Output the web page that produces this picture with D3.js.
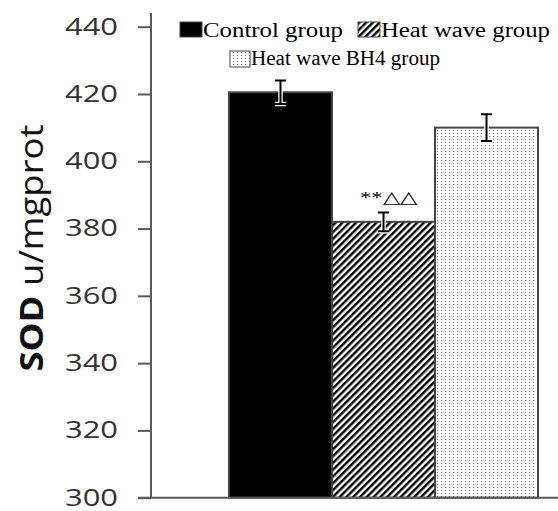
<!DOCTYPE html>
<html>
<head>
<meta charset="utf-8">
<script src="https://cdn.jsdelivr.net/npm/d3@7"></script>
<style>
  body { margin: 0; background: #fff; }
</style>
</head>
<body>
<div id="chart"></div>
<script>
// data
const groups = ["Control group", "Heat wave group", "Heat wave BH4 group"];
const means = [420.5, 382, 410];
const errors = [3.5, 2.8, 4];
const yTicks = [300, 320, 340, 360, 380, 400, 420, 440];
const marks = ["", "**\u25B3\u25B3", ""];

const width = 558, height = 511;
const axisColor = "#595959";

const data = groups.map((g, i) => ({ group: g, mean: means[i], err: errors[i], mark: marks[i] }));

const svg = d3.select("#chart").append("svg")
    .attr("width", width).attr("height", height);

const defs = svg.append("defs");

// diagonal hatch
const hatch = defs.append("pattern").attr("id", "hatch")
    .attr("patternUnits", "userSpaceOnUse")
    .attr("width", 4.8).attr("height", 10)
    .attr("patternTransform", "rotate(45)");
hatch.append("rect").attr("width", 4.8).attr("height", 10).attr("fill", "white");
hatch.append("rect").attr("width", 2.4).attr("height", 10).attr("fill", "black");

// dotted fill
const dots = defs.append("pattern").attr("id", "dots")
    .attr("patternUnits", "userSpaceOnUse")
    .attr("width", 4).attr("height", 3);
dots.append("rect").attr("width", 4).attr("height", 3).attr("fill", "white");
dots.append("rect").attr("x", 1).attr("y", 1).attr("width", 1).attr("height", 1).attr("fill", "#777");

const fills = ["black", "url(#hatch)", "url(#dots)"];
const color = d3.scaleOrdinal().domain(groups).range(fills);

// scales
const y = d3.scaleLinear().domain([300, 440]).range([497.7, 26.7]);
const x = d3.scaleBand().domain(groups).range([151, 616]).paddingInner(0).paddingOuter(0.757);

// bars
svg.selectAll("rect.bar")
    .data(data)
    .join("rect")
    .attr("class", "bar")
    .attr("x", d => x(d.group))
    .attr("y", d => y(d.mean))
    .attr("width", x.bandwidth())
    .attr("height", d => y(300) - y(d.mean))
    .attr("fill", d => color(d.group))
    .attr("stroke", "#444")
    .attr("stroke-width", 2);

// x axis line
svg.append("line")
    .attr("x1", 138).attr("x2", width)
    .attr("y1", y(300)).attr("y2", y(300))
    .attr("stroke", axisColor).attr("stroke-width", 2);

// y axis
const yAxis = svg.append("g")
    .attr("transform", "translate(151,0)")
    .call(d3.axisLeft(y).tickValues(yTicks).tickSize(13).tickSizeOuter(0).tickPadding(20));
yAxis.select(".domain").remove();
yAxis.append("line")
    .attr("x1", 0).attr("x2", 0)
    .attr("y1", y(300)).attr("y2", 13)
    .attr("stroke", axisColor).attr("stroke-width", 2);
yAxis.selectAll(".tick line").attr("stroke", axisColor).attr("stroke-width", 2);
yAxis.selectAll(".tick text")
    .attr("fill", "#333")
    .style("font-family", "'Open Sans', sans-serif")
    .style("font-size", "23px")
    .attr("textLength", 53)
    .attr("lengthAdjust", "spacingAndGlyphs");

// y label
const ylab = svg.append("text")
    .attr("transform", "translate(43,248) rotate(-90)")
    .attr("text-anchor", "middle")
    .attr("textLength", 247)
    .attr("lengthAdjust", "spacingAndGlyphs")
    .style("font-family", "'Open Sans', sans-serif")
    .style("font-size", "33px")
    .attr("fill", "#111");
ylab.append("tspan").attr("font-weight", "bold").text("SOD");
ylab.append("tspan").text(" u/mgprot");

// error bars
const eb = svg.selectAll("g.err")
    .data(data)
    .join("g")
    .attr("class", "err")
    .attr("transform", d => `translate(${x(d.group) + x.bandwidth() / 2},0)`);

[["white", 4.5], ["black", 2]].forEach(([c, w]) => {
    eb.append("path")
        .attr("d", d => `M0,${y(d.mean + d.err)}V${y(d.mean - d.err)}` +
            `M-5.5,${y(d.mean + d.err)}H5.5M-5.5,${y(d.mean - d.err)}H5.5`)
        .attr("fill", "none")
        .attr("stroke", c)
        .attr("stroke-width", w);
});

// significance marks
eb.append("text")
    .attr("x", 5)
    .attr("y", d => y(d.mean + d.err) - 9)
    .attr("text-anchor", "middle")
    .style("font-family", "'Liberation Serif', serif")
    .style("font-size", "17px")
    .attr("textLength", d => d.mark ? 57 : null)
    .attr("lengthAdjust", "spacingAndGlyphs")
    .text(d => d.mark);

// legend
const legendPos = [
    { x: 180, y: 22, w: 22, h: 15, tx: 203, ty: 36.5, tl: 140 },
    { x: 358, y: 22, w: 22, h: 15, tx: 381, ty: 36.5, tl: 169 },
    { x: 230, y: 51, w: 20, h: 16, tx: 251, ty: 65, tl: 189 }
];
const legend = svg.selectAll("g.legendG")
    .data(data)
    .join("g")
    .attr("class", "legendG");

legend.append("rect")
    .attr("x", (d, i) => legendPos[i].x)
    .attr("y", (d, i) => legendPos[i].y)
    .attr("width", (d, i) => legendPos[i].w)
    .attr("height", (d, i) => legendPos[i].h)
    .attr("fill", d => color(d.group))
    .attr("stroke", "#444")
    .attr("stroke-width", 1);

legend.append("text")
    .attr("x", (d, i) => legendPos[i].tx)
    .attr("y", (d, i) => legendPos[i].ty)
    .attr("textLength", (d, i) => legendPos[i].tl)
    .attr("lengthAdjust", "spacingAndGlyphs")
    .style("font-family", "'Liberation Serif', serif")
    .style("font-size", "20px")
    .text(d => d.group);
</script>
</body>
</html>
